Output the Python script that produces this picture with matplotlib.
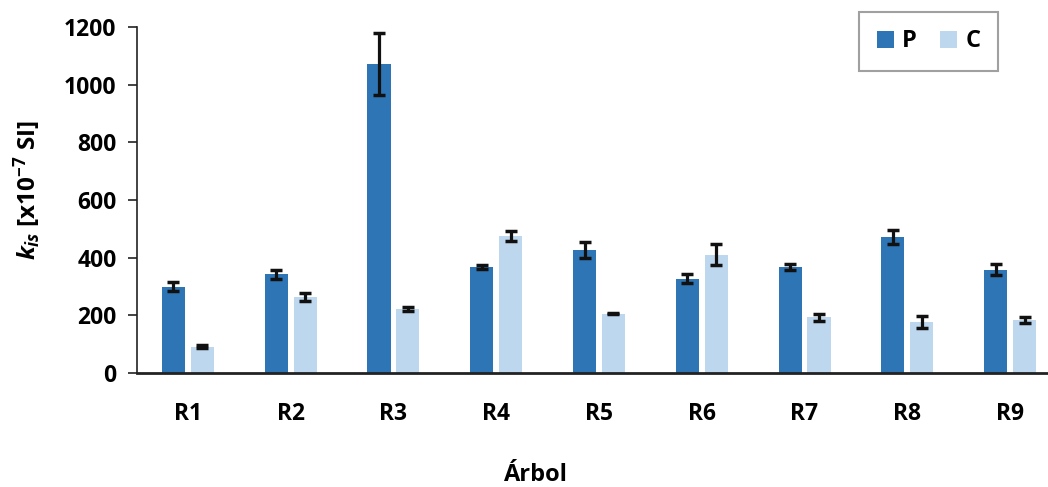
import matplotlib
matplotlib.use("Agg")
import matplotlib.pyplot as plt
import numpy as np

categories = ["R1", "R2", "R3", "R4", "R5", "R6", "R7", "R8", "R9"]
p_values = [300, 342, 1071, 367, 427, 327, 367, 471, 358]
p_errors = [15, 16, 107, 6, 28, 16, 11, 25, 19]
c_values = [91, 264, 222, 475, 206, 410, 193, 178, 184]
c_errors = [6, 15, 8, 16, 3, 36, 13, 21, 10]
series_names = ["P", "C"]

FAM = 'Open Sans'
plt.rcParams['font.family'] = [FAM, 'DejaVu Sans']
plt.rcParams['font.weight'] = 'bold'
plt.rcParams['mathtext.fontset'] = 'custom'
plt.rcParams['mathtext.it'] = FAM + ':italic:bold'
plt.rcParams['mathtext.rm'] = FAM + ':bold'
plt.rcParams['mathtext.bf'] = FAM + ':bold'

W, H = 1048, 487
fig = plt.figure(figsize=(W/100, H/100), dpi=100)
left_px, right_px, top_px, bot_px = 136.6, 1061.4, 27, 373
ax = fig.add_axes([left_px/W, 1 - bot_px/H, (right_px-left_px)/W, (bot_px-top_px)/H])

x = np.arange(len(categories))
bw = 0.224
off = 0.141
ekw = dict(ecolor='#111111', elinewidth=2.3, capsize=4.3, capthick=2.5)
ax.bar(x - off, p_values, bw, color='#2E75B6', label=series_names[0], zorder=2,
       yerr=p_errors, error_kw=ekw)
ax.bar(x + off, c_values, bw, color='#BDD7EE', label=series_names[1], zorder=2,
       yerr=c_errors, error_kw=ekw)

ax.set_xlim(-0.5, len(categories) - 0.5)
ax.set_ylim(0, 1200)
ax.set_yticks(np.arange(0, 1201, 200))
ax.set_xticks(x)
ax.set_xticklabels(categories)
ax.tick_params(axis='x', length=0, pad=21, labelsize=16.5)
ax.tick_params(axis='y', length=6.5, width=1.2, direction='out', pad=8, labelsize=16.5, color='#222222')
for lab in ax.get_xticklabels() + ax.get_yticklabels():
    lab.set_fontweight('bold')
ax.spines['top'].set_visible(False)
ax.spines['right'].set_visible(False)
ax.spines['left'].set_linewidth(1.2)
ax.spines['left'].set_color('#222222')
ax.spines['bottom'].set_linewidth(2.0)
ax.spines['bottom'].set_color('#222222')

fig.text(27/W, 1 - 190/H, r"$k_{is}$ [x10$^{-7}$ SI]", rotation=90, ha='center', va='center',
         fontsize=17.5, fontweight='bold')
fig.text(536/W, 1 - 475/H, "Árbol", ha='center', va='center', fontsize=17, fontweight='bold')

leg = fig.legend(loc='upper left', bbox_to_anchor=(859/W, 1 - 11.7/H), ncol=2,
                 prop={'weight': 'bold', 'size': 17}, frameon=True, fancybox=False,
                 handlelength=0.72, handleheight=0.72, handletextpad=0.35, columnspacing=1.0,
                 borderpad=0.75, borderaxespad=0)
leg.get_frame().set_edgecolor('#888888')
leg.get_frame().set_linewidth(1.5)

fig.savefig("out.png", dpi=100)
